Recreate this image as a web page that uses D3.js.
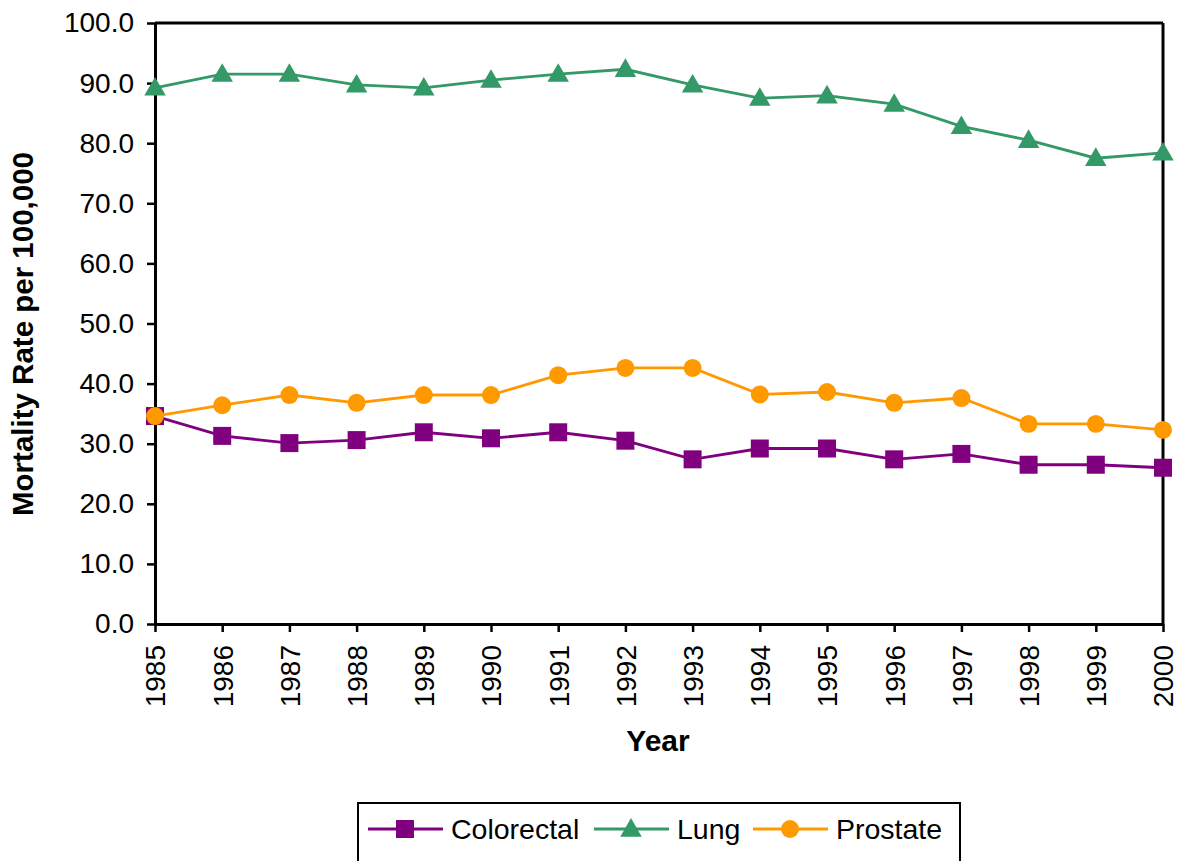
<!DOCTYPE html>
<html>
<head>
<meta charset="utf-8">
<script src="https://cdn.jsdelivr.net/npm/d3@7"></script>
<style>
  html, body { margin: 0; padding: 0; background: #fff; }
  svg { display: block; font-family: "Liberation Sans", Arial, sans-serif; }
</style>
</head>
<body>
<svg id="chart" width="1178" height="861"></svg>
<script>
const years = [1985,1986,1987,1988,1989,1990,1991,1992,1993,1994,1995,1996,1997,1998,1999,2000];
const colorectal = [34.6,31.3,30.1,30.6,31.9,30.9,31.9,30.5,27.4,29.2,29.2,27.4,28.3,26.5,26.5,26.0];
const lung = [89.2,91.5,91.5,89.7,89.2,90.5,91.5,92.3,89.7,87.5,87.9,86.5,82.8,80.5,77.5,78.4];
const prostate = [34.6,36.4,38.1,36.8,38.1,38.1,41.4,42.6,42.6,38.2,38.6,36.8,37.6,33.3,33.3,32.3];
const yTicks = [0,10,20,30,40,50,60,70,80,90,100];
const seriesNames = ["Colorectal","Lung","Prostate"];
const seriesColors = ["#800080","#339966","#FF9900"];
const seriesShapes = [d3.symbolSquare, d3.symbolTriangle, d3.symbolCircle];
const seriesData = [colorectal, lung, prostate];

(function () {
const svg = d3.select("#chart");
const pL = 155, pR = 1163, pT = 23, pB = 624;
const x = d3.scaleLinear().domain([1985, 2000]).range([pL, pR]);
const y = d3.scaleLinear().domain([0, 100]).range([pB, pT]);

// frame top/right
svg.append("line").attr("x1", pL).attr("x2", pR).attr("y1", pT).attr("y2", pT)
  .attr("stroke", "#000").attr("stroke-width", 3);
svg.append("line").attr("x1", pR).attr("x2", pR).attr("y1", pT).attr("y2", pB)
  .attr("stroke", "#000").attr("stroke-width", 3);

// axes
const yAxis = svg.append("g").attr("transform", `translate(${pL},0)`)
  .call(d3.axisLeft(y).tickValues(yTicks).tickFormat(d3.format(".1f")).tickSize(8).tickSizeOuter(0).tickPadding(13));
const xAxis = svg.append("g").attr("transform", `translate(0,${pB})`)
  .call(d3.axisBottom(x).tickValues(years).tickFormat(d3.format("d")).tickSize(8).tickSizeOuter(0));
[yAxis, xAxis].forEach(a => {
  a.select(".domain").attr("stroke", "#000").attr("stroke-width", 3);
  a.selectAll(".tick line").attr("stroke", "#000").attr("stroke-width", 2.5);
  a.selectAll("text").attr("fill", "#000").style("font-size", "28px")
    .style("font-family", '"Liberation Sans", Arial, sans-serif');
});
xAxis.selectAll(".tick text")
  .attr("transform", "rotate(-90)")
  .attr("text-anchor", "end")
  .attr("x", -21)
  .attr("y", 0)
  .attr("dy", "0.35em");

// axis titles
svg.append("text").attr("x", 658).attr("y", 751).attr("text-anchor", "middle")
  .style("font-size", "30px").style("font-weight", "bold").text("Year");
svg.append("text").attr("transform", "translate(33,334) rotate(-90)").attr("text-anchor", "middle")
  .style("font-size", "29.5px").style("font-weight", "bold").text("Mortality Rate per 100,000");

// series
const line = d3.line().x((d, i) => x(years[i])).y(d => y(d));
const symSizes = [324, 200, 254];
seriesData.forEach((vals, k) => {
  const g = svg.append("g");
  g.append("path").datum(vals).attr("d", line).attr("fill", "none")
    .attr("stroke", seriesColors[k]).attr("stroke-width", 2.8);
  g.selectAll("path.m").data(vals).enter().append("path").attr("class", "m")
    .attr("transform", (d, i) => `translate(${x(years[i])},${y(d) + (k === 1 ? 1.5 : 0)})`)
    .attr("d", d3.symbol().type(seriesShapes[k]).size(symSizes[k]))
    .attr("fill", seriesColors[k]);
});

// legend
const lg = svg.append("g");
lg.append("rect").attr("x", 358).attr("y", 803).attr("width", 602).attr("height", 80)
  .attr("fill", "none").attr("stroke", "#000").attr("stroke-width", 2);
const legX = [368, 594, 753];
const ly = 829;
seriesNames.forEach((name, k) => {
  const x0 = legX[k];
  lg.append("line").attr("x1", x0).attr("x2", x0 + 75).attr("y1", ly).attr("y2", ly)
    .attr("stroke", seriesColors[k]).attr("stroke-width", 2.8);
  lg.append("path").attr("transform", `translate(${x0 + 37},${ly + (k === 1 ? 1.5 : 0)})`)
    .attr("d", d3.symbol().type(seriesShapes[k]).size(symSizes[k]))
    .attr("fill", seriesColors[k]);
  lg.append("text").attr("x", x0 + 83).attr("y", ly).attr("dy", "0.35em")
    .style("font-size", "28.5px").text(name);
});
})();
</script>
</body>
</html>
